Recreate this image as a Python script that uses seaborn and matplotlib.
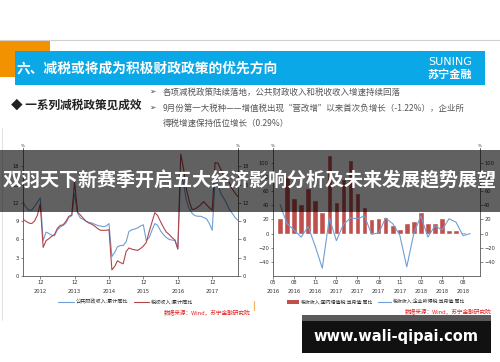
import pandas as pd
import matplotlib
matplotlib.use("Agg")
import matplotlib.pyplot as plt
from matplotlib.patches import Rectangle, Patch
from matplotlib.lines import Line2D
import seaborn as sns

W, H = 500, 362

# left chart: cumulative yoy (%), monthly from Jun 2012 to Sep 2018
left_start = "2012-06-01"
fiscal_rev_yoy = [12.2, 11.3, 10.8, 10.8, 11.4, 12.1, 12.8,
                  5.8, 7.2, 7.0, 6.7, 6.6, 7.6, 8.0, 8.3, 8.7, 9.6, 9.9, 13.5,
                  10.3, 9.5, 9.3, 9.0, 8.8, 8.7, 8.5, 8.3, 8.2, 8.1, 8.2, 8.6,
                  3.2, 3.9, 4.8, 5.0, 5.0, 5.6, 7.3, 7.6, 7.7, 7.9, 8.2, 8.4,
                  5.8, 6.3, 7.5, 8.6, 8.3, 7.4, 6.8, 6.3, 6.0, 5.9, 5.8, 4.5,
                  17.0, 15.0, 12.5, 11.0, 10.3, 9.9, 9.8, 9.8, 9.6, 9.4, 8.6, 7.5,
                  16.0, 15.0, 13.6, 12.8, 12.0, 10.9, 10.3, 9.6, 9.1]
tax_rev_yoy = [9.3, 9.0, 8.7, 8.6, 9.0, 10.0, 11.8,
               4.7, 5.8, 6.1, 6.5, 6.8, 7.8, 8.3, 8.4, 9.0, 9.8, 10.0, 15.5,
               10.5, 10.0, 9.5, 9.0, 8.7, 8.5, 8.2, 7.8, 7.5, 7.5, 7.5, 7.6,
               1.0, 1.6, 2.5, 2.2, 2.0, 4.0, 4.6, 4.4, 4.3, 4.2, 4.5, 4.9,
               5.5, 7.3, 8.8, 10.4, 9.9, 8.9, 8.0, 7.2, 6.8, 6.3, 5.9, 4.4,
               20.0, 17.5, 14.3, 12.3, 10.9, 11.0, 11.3, 11.7, 12.2, 11.7, 11.2, 10.8,
               18.6, 18.5, 17.5, 16.5, 15.8, 15.3, 14.3, 13.6, 13.0]
left_names = ["公共财政收入:累计同比", "税收收入:累计同比"]
left_years = [2012, 2013, 2014, 2015, 2016, 2017]

# right chart: monthly yoy (%), months counted from May 2016
right_start = "2016-05-01"
vat_yoy = [22, 80, 49.6, 42, 64.6, 46.8, 30.4, 111, 44.5, 77, 103.5, 57.6, 37.5,
           20, 21.5, 23.5, 12.5, 7, 14.5, 18, 30.5, 15, 15, 22.5, 5.6, 5.6, 2.8]
cit_yoy = [41, 14, 5, -5, 10, -18, -49, 22, -10, 13, 22, 21, 25, -1, 1, 22, 14, -2,
           -47, 0, 25, -5, 11, 5, 21, 16, -3, 0]
right_names = ["税收收入:国内增值税:当月值:同比", "税收收入:企业所得税:当月值:同比"]

title = "六、减税或将成为积极财政政策的优先方向"
section = "◆ 一系列减税政策见成效"
bullets = ["各项减税政策陆续落地，公共财政收入和税收收入增速持续回落",
           "9月份第一大税种——增值税出现“营改增”以来首次负增长（-1.22%），企业所",
           "得税增速保持低位增长（0.29%）"]
overlay = "双羽天下新赛季开启五大经济影响分析及未来发展趋势展望"
source = "数据来源：Wind，苏宁金融研究院"
site = "www.wali-qipai.com"

sns.set_style("white")
CJK = ["Noto Sans CJK SC", "DejaVu Sans"]
plt.rcParams["font.family"] = CJK

BLUE = "#6f9fd3"
RED = "#b0464a"
BAR = "#c0504d"


def fx(x):
    return x / W


def fy(y):
    return 1 - y / H


def ftext(x, y, s, **kw):
    return fig.text(fx(x), fy(y), s, **kw)


fig = plt.figure(figsize=(5, 3.62), dpi=100)
fig.patch.set_facecolor("white")

# header
fig.add_artist(Line2D([0, 1], [fy(40), fy(40)], color="#d0d0d0", lw=0.8,
                      transform=fig.transFigure))
fig.add_artist(Rectangle((0, fy(77)), fx(50), fy(40) - fy(77), color="#f39200",
                         transform=fig.transFigure, lw=0))
fig.add_artist(Rectangle((fx(15), fy(85)), fx(470), fy(51) - fy(85), color="#0aa8e6",
                         transform=fig.transFigure, lw=0))
ftext(17, 69, title, color="white", fontsize=9.9, fontweight="bold", va="center")
ftext(450, 62, "SUNING", color="white", fontsize=8, va="center", ha="center",
      family="DejaVu Sans")
ftext(450, 74, "苏宁金融", color="white", fontsize=8, va="center", ha="center",
      fontweight="bold")
ftext(11, 105, section, color="#222222", fontsize=8.4, fontweight="bold", va="center")
for i, (yy, s) in enumerate(zip([92, 108, 123], bullets)):
    if i < 2:
        ftext(149, yy, "➢", color="#444444", fontsize=5.5, va="center")
    ftext(163, yy, s, color="#555555", fontsize=6.1, va="center")

# slide edge
fig.add_artist(Line2D([fx(2), fx(2)], [fy(128), fy(320)], color="#dddddd", lw=0.6,
                      transform=fig.transFigure))
fig.add_artist(Line2D([fx(254), fx(254)], [fy(301), fy(310)], color="#f0b060", lw=0.8,
                      transform=fig.transFigure))

# ---------- left chart ----------
dates = pd.date_range(left_start, periods=len(fiscal_rev_yoy), freq="MS")
df_left = pd.concat([
    pd.DataFrame({"date": dates, "value": fiscal_rev_yoy, "series": left_names[0]}),
    pd.DataFrame({"date": dates, "value": tax_rev_yoy, "series": left_names[1]}),
])
ax1 = fig.add_axes([fx(23), fy(276), fx(238) - fx(23), fy(148) - fy(276)])
sns.lineplot(data=df_left, x="date", y="value", hue="series",
             palette=[BLUE, RED], lw=0.8, ax=ax1)
h1, l1 = ax1.get_legend_handles_labels()
ax1.get_legend().remove()
ax1.set_xlim(dates[0], dates[-1])
ax1.set_ylim(0, 21)
ax1.set_yticks(range(0, 19, 3))
ax1.set_xticks(pd.to_datetime([f"{y}-12-01" for y in left_years]))
ax1.set_xticklabels([f"12\n{y}" for y in left_years])
ax1.set_xlabel("")
ax1.set_ylabel("")

# ---------- right chart ----------
months = pd.date_range(right_start, periods=len(cit_yoy) + 1, freq="MS")
df_bar = pd.DataFrame({"m": range(1, len(vat_yoy) + 1), "value": vat_yoy})
df_line = pd.DataFrame({"m": range(1, len(cit_yoy) + 1), "value": cit_yoy})
ax2 = fig.add_axes([fx(273), fy(276), fx(480) - fx(273), fy(148) - fy(276)])
sns.barplot(data=df_bar, x="m", y="value", native_scale=True, color=BAR,
            width=0.8, saturation=1, ax=ax2)
sns.lineplot(data=df_line, x="m", y="value", color=BLUE, lw=0.8, ax=ax2)
ax2.set_xlim(0, 29.4)
ax2.set_ylim(-60, 121)
ax2.set_yticks(range(-40, 101, 20))
tick_m = list(range(0, len(vat_yoy) + 1, 3))
ax2.set_xticks(tick_m)
ax2.set_xticks(range(0, 29), minor=True)
ax2.set_xticklabels([months[m].strftime("%m\n%Y") for m in tick_m])
ax2.set_xlabel("")
ax2.set_ylabel("")

for ax in (ax1, ax2):
    for side in ("left", "right", "bottom"):
        ax.spines[side].set_visible(True)
        ax.spines[side].set_color("#555555")
        ax.spines[side].set_linewidth(0.6)
    ax.spines["top"].set_visible(False)
    ax.tick_params(axis="both", which="major", labelsize=3.7, length=1.8, width=0.4,
                   pad=1.2, colors="#333333", direction="out")
    ax.tick_params(axis="both", which="minor", length=1, width=0.3, colors="#555555")
    ax.tick_params(axis="y", right=True, labelright=True, left=True)
    ax.tick_params(axis="x", bottom=True)
    for lab in ax.get_xticklabels():
        lab.set_linespacing(1.9)
    for lab in ax.get_xticklabels() + ax.get_yticklabels():
        lab.set_family("DejaVu Sans")

for xx in (23, 238, 273, 480):
    ftext(xx, 146, "%", fontsize=3, ha="center", va="center", color="#333333",
          family="DejaVu Sans")

# legends and sources
fig.legend(h1, l1, loc="center", bbox_to_anchor=(fx(126), fy(302)), ncol=2,
           frameon=False, fontsize=3.7, handlelength=3, handletextpad=0.4,
           columnspacing=1.0)
h2 = [Patch(facecolor=BAR, edgecolor="none"), Line2D([], [], color=BLUE, lw=0.8)]
fig.legend(h2, right_names, loc="center", bbox_to_anchor=(fx(376), fy(302)), ncol=2,
           frameon=False, fontsize=3.5, handlelength=2.6, handletextpad=0.4,
           columnspacing=1.0)
ftext(250, 313, source, color="#e02020", fontsize=4.1, ha="right", va="center",
      fontstyle="italic")
ftext(491, 312, source, color="#e02020", fontsize=4.1, ha="right", va="center",
      fontstyle="italic")

# overlay banner
fig.add_artist(Rectangle((0, fy(212)), 1, fy(150) - fy(212), color="black", alpha=0.62,
                         transform=fig.transFigure, lw=0, zorder=20))
ftext(250, 181, overlay, color="white", fontsize=13.7, fontweight="bold",
      ha="center", va="center", zorder=21)

# site box
fig.add_artist(Rectangle((fx(302), fy(353)), fx(189), fy(315) - fy(353), color="#111111",
                         transform=fig.transFigure, lw=0, zorder=20))
fig.add_artist(Rectangle((fx(302), fy(321)), fx(189), fy(315) - fy(321), color="#5a5a5a",
                         transform=fig.transFigure, lw=0, zorder=20))
ftext(396, 337, site, color="white", fontsize=10.5, fontweight="bold",
      ha="center", va="center", zorder=21, family="DejaVu Sans")

fig.savefig("out.png", dpi=100)
